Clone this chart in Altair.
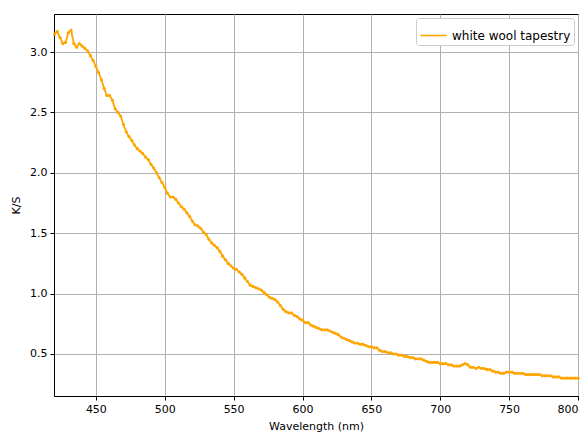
import altair as alt
import pandas as pd

wavelength = list(range(420, 801, 2))
ks = [
    3.15, 3.17, 3.12, 3.07, 3.08, 3.16, 3.18, 3.07, 3.04, 3.07,
    3.05, 3.03, 3.01, 2.97, 2.93, 2.88, 2.83, 2.77, 2.70, 2.64,
    2.64, 2.60, 2.53, 2.50, 2.47, 2.40, 2.34, 2.30, 2.27, 2.23,
    2.20, 2.18, 2.16, 2.13, 2.11, 2.07, 2.04, 2.00, 1.96, 1.92,
    1.88, 1.83, 1.80, 1.80, 1.78, 1.75, 1.72, 1.70, 1.67, 1.64,
    1.60, 1.57, 1.56, 1.54, 1.51, 1.49, 1.45, 1.42, 1.40, 1.38,
    1.35, 1.31, 1.28, 1.25, 1.23, 1.21, 1.20, 1.18, 1.16, 1.13,
    1.10, 1.07, 1.06, 1.05, 1.04, 1.03, 1.01, 0.99, 0.97, 0.96,
    0.95, 0.93, 0.90, 0.87, 0.85, 0.84, 0.84, 0.82, 0.81, 0.79,
    0.78, 0.76, 0.76, 0.74, 0.73, 0.72, 0.71, 0.70, 0.70, 0.70,
    0.69, 0.68, 0.67, 0.66, 0.64, 0.63, 0.62, 0.61, 0.60, 0.59,
    0.59, 0.58, 0.58, 0.57, 0.56, 0.56, 0.55, 0.55, 0.53, 0.52,
    0.52, 0.51, 0.51, 0.50, 0.50, 0.49, 0.49, 0.48, 0.48, 0.47,
    0.47, 0.46, 0.46, 0.46, 0.45, 0.44, 0.43, 0.43, 0.43, 0.43,
    0.42, 0.42, 0.42, 0.41, 0.41, 0.40, 0.40, 0.40, 0.41, 0.42,
    0.41, 0.39, 0.39, 0.38, 0.39, 0.38, 0.38, 0.37, 0.37, 0.36,
    0.35, 0.35, 0.34, 0.34, 0.35, 0.35, 0.35, 0.34, 0.34, 0.34,
    0.34, 0.33, 0.33, 0.33, 0.33, 0.33, 0.33, 0.32, 0.32, 0.32,
    0.32, 0.31, 0.31, 0.31, 0.30, 0.30, 0.30, 0.30, 0.30, 0.30,
    0.30,
]
series_name = "white wool tapestry"
x_ticks = [450, 500, 550, 600, 650, 700, 750, 800]
y_ticks = [0.5, 1.0, 1.5, 2.0, 2.5, 3.0]

df = pd.DataFrame({"Wavelength": wavelength, "KS": ks, "series": series_name})

FONT = "DejaVu Sans"

chart = alt.Chart(df).mark_line(
    strokeWidth=1.8,
    point=alt.OverlayMarkDef(size=10, filled=True, color="orange"),
).encode(
    x=alt.X("Wavelength:Q",
            scale=alt.Scale(domain=[419.6, 800], nice=False, zero=False),
            axis=alt.Axis(values=x_ticks, title="Wavelength (nm)", format="d")),
    y=alt.Y("KS:Q",
            scale=alt.Scale(domain=[0.152, 3.315], nice=False, zero=False),
            axis=alt.Axis(values=y_ticks, title="K/S", format=".1f")),
    color=alt.Color("series:N",
                    scale=alt.Scale(domain=[series_name], range=["orange"]),
                    legend=alt.Legend(title=None, orient="top-right",
                                      symbolType="stroke", symbolSize=700,
                                      symbolStrokeWidth=1.6,
                                      labelFont=FONT, labelFontSize=12,
                                      labelColor="black",
                                      strokeColor="#cccccc", fillColor="white",
                                      cornerRadius=3, padding=3,
                                      offset=4)),
).properties(
    width=524, height=382,
    autosize=alt.AutoSizeParams(type="none"),
    padding={"left": 46, "top": 6, "right": 2, "bottom": 36},
).configure_view(
    stroke="black", strokeWidth=1,
).configure_axis(
    domainColor="black", domainWidth=1,
    tickColor="black", tickSize=4, tickWidth=1,
    labelFont=FONT, labelFontSize=11, labelColor="black",
    titleFont=FONT, titleFontSize=11, titleFontWeight="normal", titleColor="black",
    grid=True, gridColor="#b0b0b0", gridWidth=1,
    labelPadding=3,
).configure_axisX(titlePadding=6).configure_axisY(titlePadding=8)

chart.save("out.html", embed_options={"renderer": "svg", "actions": False})
